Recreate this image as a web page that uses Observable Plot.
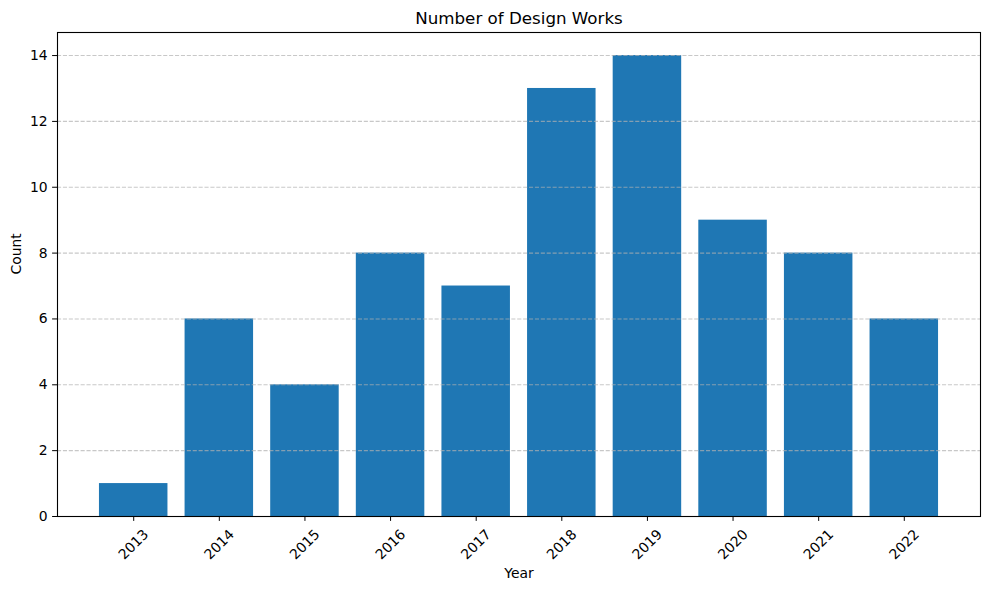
<!DOCTYPE html>
<html>
<head>
<meta charset="utf-8">
<script src="https://cdn.jsdelivr.net/npm/d3@7"></script>
<script src="https://cdn.jsdelivr.net/npm/@observablehq/plot@0.6"></script>
<style>
  html, body { margin: 0; padding: 0; background: #fff; }
  svg { display: block; }
</style>
</head>
<body>
<div id="chart"></div>
<script>
const years = ["2013","2014","2015","2016","2017","2018","2019","2020","2021","2022"];
const counts = [1, 6, 4, 8, 7, 13, 14, 9, 8, 6];
const yTicks = [0, 2, 4, 6, 8, 10, 12, 14];
const titleText = "Number of Design Works";
const xLabel = "Year";
const yLabel = "Count";

const data = years.map((y, i) => ({year: y, count: counts[i]}));
const font = "DejaVu Sans, sans-serif";

const chart = Plot.plot({
  width: 989,
  height: 590,
  marginLeft: 57,
  marginRight: 9,
  marginTop: 32,
  marginBottom: 74,
  style: {fontFamily: font, background: "#fff", color: "#000"},
  x: {type: "band", domain: years, paddingInner: 0.2, paddingOuter: 0.49, round: false},
  y: {domain: [0, 14.7]},
  marks: [
    Plot.barY(data, {x: "year", y: "count", fill: "#1f77b4"}),
    Plot.ruleY(yTicks.slice(1), {stroke: "#b0b0b0", strokeOpacity: 0.7, strokeWidth: 1.1, strokeDasharray: "4.1,1.8"}),
    Plot.frame({stroke: "#000", strokeWidth: 1.1}),
    Plot.axisY({ticks: yTicks, tickSize: 4.9, tickPadding: 4.9, fontSize: 13.9, label: null, tickFormat: d => String(d)}),
    Plot.axisX({tickSize: 4.9, label: null, text: null}),
    Plot.text(years, {x: d => d, frameAnchor: "bottom", dy: 28, rotate: -45, fontSize: 13.9, fill: "#000", textAnchor: "middle", lineAnchor: "middle"}),
    Plot.text([xLabel], {frameAnchor: "bottom", dy: 57, fontSize: 13.9, fill: "#000", lineAnchor: "middle"}),
    Plot.text([yLabel], {frameAnchor: "left", dx: -41, rotate: -90, fontSize: 13.9, fill: "#000", lineAnchor: "middle"}),
    Plot.text([titleText], {frameAnchor: "top", dy: -14, fontSize: 16.7, fill: "#000", lineAnchor: "middle"})
  ]
});
document.getElementById("chart").appendChild(chart);
</script>
</body>
</html>
